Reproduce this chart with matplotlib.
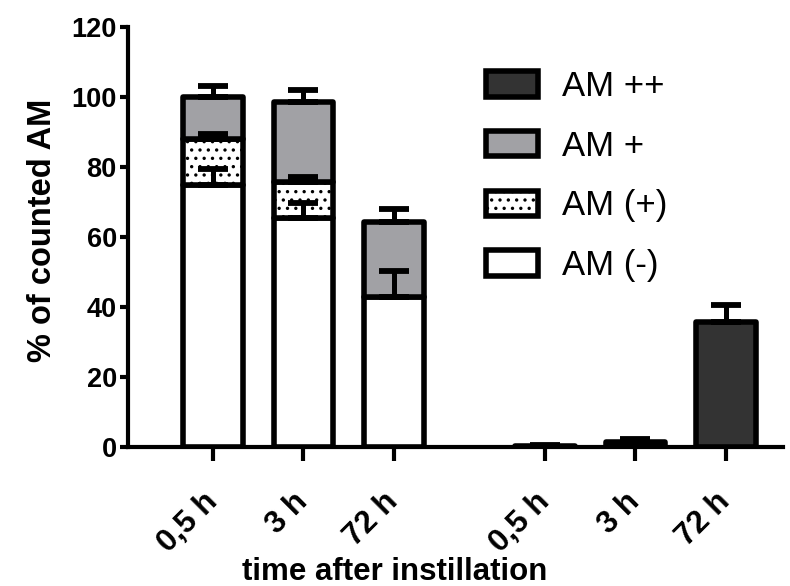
import numpy as np
import matplotlib
matplotlib.use("Agg")
import matplotlib.pyplot as plt

# values (percent of counted AM)
time_labels = ["0,5 h", "3 h", "72 h", "0,5 h", "3 h", "72 h"]

am_minus = [75.0, 65.5, 43.0]
am_minus_err = [4.5, 4.2, 7.4]
am_paren = [13.0, 10.3, 0.0]
am_paren_err = [1.5, 1.4, 0.0]
am_plus = [12.0, 22.9, 21.3]
am_plus_err = [3.2, 3.3, 3.7]
am_plusplus = [0.3, 1.3, 35.7]
am_plusplus_err = [0.4, 0.9, 4.9]

plt.rcParams['font.family'] = ['Liberation Sans', 'DejaVu Sans']
plt.rcParams['hatch.linewidth'] = 1.2

fig = plt.figure(figsize=(7.9, 5.86), dpi=100)
ax = fig.add_axes([0.162, 0.2372, 0.829, 0.7167])

x1 = np.arange(3)
x2 = np.arange(3) + 3.67
w = 0.66
lw = 4
gray = '#a1a1a5'
dark = '#333333'

bar_kw = dict(width=w, edgecolor='black', linewidth=lw, joinstyle='round', zorder=2)
err_kw = dict(fmt='none', ecolor='black', elinewidth=3.6, capsize=11, capthick=4.2, zorder=4)

bottom = np.zeros(3)
ax.bar(x1, am_minus, bottom=bottom, color='white', label='AM (-)', **bar_kw)
ax.errorbar(x1, bottom + am_minus, yerr=[np.zeros(3), am_minus_err], **err_kw)
bottom = bottom + am_minus

b = ax.bar(x1, am_paren, bottom=bottom, color='white', hatch='..', label='AM (+)', **bar_kw)
for i, v in enumerate(am_paren):
    if v == 0:
        b[i].set_visible(False)
mask = np.array(am_paren) > 0
ax.errorbar(x1[mask], (bottom + am_paren)[mask],
            yerr=[np.zeros(mask.sum()), np.array(am_paren_err)[mask]], **err_kw)
bottom = bottom + am_paren

ax.bar(x1, am_plus, bottom=bottom, color=gray, label='AM +', **bar_kw)
ax.errorbar(x1, bottom + am_plus, yerr=[np.zeros(3), am_plus_err], **err_kw)

ax.bar(x2, am_plusplus, color=dark, label='AM ++', **bar_kw)
ax.errorbar(x2, am_plusplus, yerr=[np.zeros(3), am_plusplus_err], **err_kw)

ax.set_xlim(-0.94, 6.30)
ax.set_ylim(0, 120)
ax.set_yticks(np.arange(0, 121, 20))
ax.set_xticks(np.concatenate([x1, x2]))
ax.set_xticklabels(time_labels, rotation=45, ha='right', va='center',
                   rotation_mode='anchor', fontsize=22.5, fontweight='bold')
for lab in ax.get_yticklabels():
    lab.set_fontsize(19.5)
    lab.set_fontweight('bold')

for s in ['top', 'right']:
    ax.spines[s].set_visible(False)
for s in ['left', 'bottom']:
    ax.spines[s].set_linewidth(3)
ax.tick_params(axis='y', length=6, width=3, pad=2)
ax.tick_params(axis='x', length=10, width=3, pad=26)

fig.text(0.054, 0.607, '% of counted AM', rotation=90, ha='center', va='center',
         fontsize=23.5, fontweight='bold')
fig.text(0.5, 6 / 586, 'time after instillation', ha='center', va='baseline',
         fontsize=22.5, fontweight='bold')

handles, labels = ax.get_legend_handles_labels()
order = ['AM ++', 'AM +', 'AM (+)', 'AM (-)']
hmap = dict(zip(labels, handles))
ax.legend([hmap[k] for k in order], order, loc='upper left',
          bbox_to_anchor=(486 / 790, 1 - 70 / 586), bbox_transform=fig.transFigure,
          frameon=False, fontsize=25, handlelength=1.5, handleheight=0.75,
          handletextpad=0.7, labelspacing=0.77, borderpad=0, borderaxespad=0)

fig.savefig('out.png', dpi=100)
